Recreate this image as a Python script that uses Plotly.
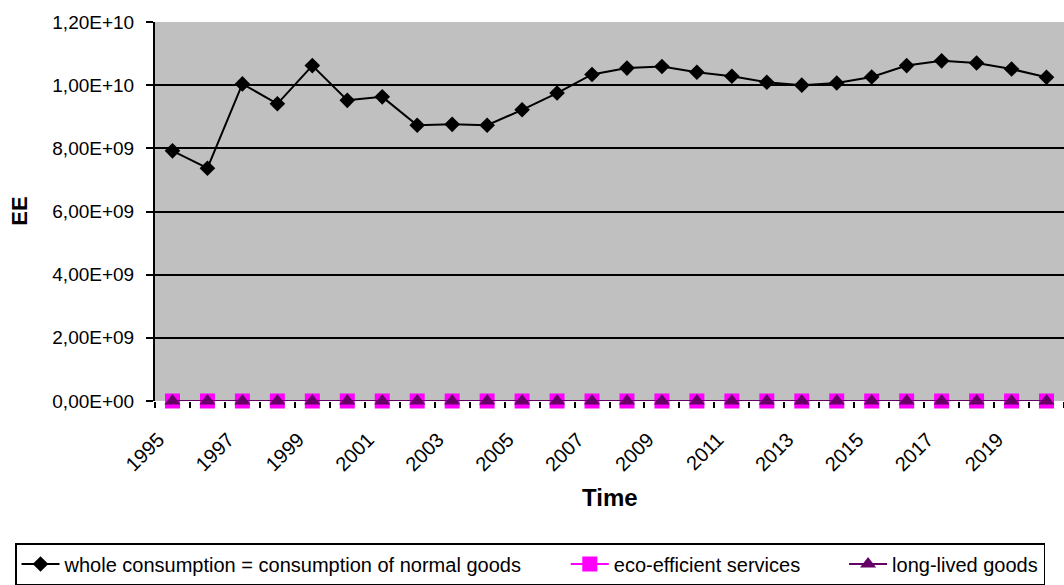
import plotly.graph_objects as go

# Years on the time axis
years = list(range(1995, 2021))

# Environmental effect (EE) per scenario
whole_consumption = [7.92e9, 7.37e9, 1.004e10, 9.41e9, 1.062e10, 9.52e9, 9.63e9, 8.73e9, 8.76e9,
                     8.73e9, 9.22e9, 9.75e9, 1.034e10, 1.054e10, 1.059e10, 1.041e10, 1.028e10,
                     1.009e10, 1.000e10, 1.007e10, 1.026e10, 1.062e10, 1.077e10, 1.070e10,
                     1.051e10, 1.025e10]
eco_efficient_services = [0] * 26
long_lived_goods = [0] * 26

# Axis tick labels
y_tick_values = [0, 2e9, 4e9, 6e9, 8e9, 1e10, 1.2e10]
y_tick_labels = ["0,00E+00", "2,00E+09", "4,00E+09", "6,00E+09", "8,00E+09", "1,00E+10", "1,20E+10"]
x_tick_values = list(range(1995, 2021, 2))
x_tick_labels = [str(y) for y in x_tick_values]

FONT = "Arial, Liberation Sans, sans-serif"
PAD = "\u00a0" * 7  # spacing between legend entries

fig = go.Figure()
fig.add_trace(go.Scatter(
    x=years, y=whole_consumption, mode="lines+markers",
    name="whole consumption = consumption of normal goods" + PAD,
    line=dict(color="black", width=2),
    marker=dict(symbol="diamond", size=12, color="black"),
))
fig.add_trace(go.Scatter(
    x=years, y=eco_efficient_services, mode="lines+markers",
    name="eco-efficient services" + PAD,
    line=dict(color="#FF00FF", width=2),
    marker=dict(symbol="square", size=15, color="#FF00FF"),
    cliponaxis=False,
))
fig.add_trace(go.Scatter(
    x=years, y=long_lived_goods, mode="lines+markers",
    name="long-lived goods",
    line=dict(color="#660066", width=2),
    marker=dict(symbol="triangle-up", size=14, color="#660066"),
    cliponaxis=False,
))

fig.update_layout(
    width=1064, height=585,
    margin=dict(l=155, r=0, t=22, b=182),
    paper_bgcolor="white",
    plot_bgcolor="#C0C0C0",
    font=dict(family=FONT, size=20, color="black"),
    showlegend=True,
    legend=dict(
        orientation="h", x=-0.154, xanchor="left", y=-0.375, yanchor="top",
        bordercolor="black", borderwidth=1.5, bgcolor="white",
        font=dict(family=FONT, size=20, color="black"),
        itemwidth=38,
    ),
    xaxis=dict(
        range=[1994.5, 2020.5],
        tickmode="array", tickvals=x_tick_values, ticktext=x_tick_labels,
        tickangle=-45, ticks="", showgrid=False, zeroline=False,
        showline=False,
        tickfont=dict(family=FONT, size=20),
        ticklabelstandoff=22, ticklabelshift=-14,
        minor=dict(tickmode="linear", tick0=1994.5, dtick=1, ticks="outside",
                   ticklen=6, tickwidth=2, tickcolor="black", showgrid=False),
    ),
    yaxis=dict(
        range=[0, 1.2e10],
        tickmode="array", tickvals=y_tick_values, ticktext=y_tick_labels,
        ticks="outside", ticklen=7, tickwidth=2, tickcolor="black",
        showgrid=True, gridcolor="black", gridwidth=2,
        zeroline=False, showline=True, linecolor="black", linewidth=2,
        tickfont=dict(family=FONT, size=19),
        ticklabelstandoff=8,
    ),
    annotations=[
        dict(text="<b>EE</b>", xref="paper", yref="paper", x=-0.15, y=0.501,
             xanchor="center", yanchor="middle",
             textangle=-90, showarrow=False, font=dict(family=FONT, size=22)),
        dict(text="<b>Time</b>", xref="paper", yref="paper", x=0.5, y=-0.2546,
             xanchor="center", yanchor="middle", showarrow=False,
             font=dict(family=FONT, size=24)),
    ],
)

fig.write_html("out.html")
